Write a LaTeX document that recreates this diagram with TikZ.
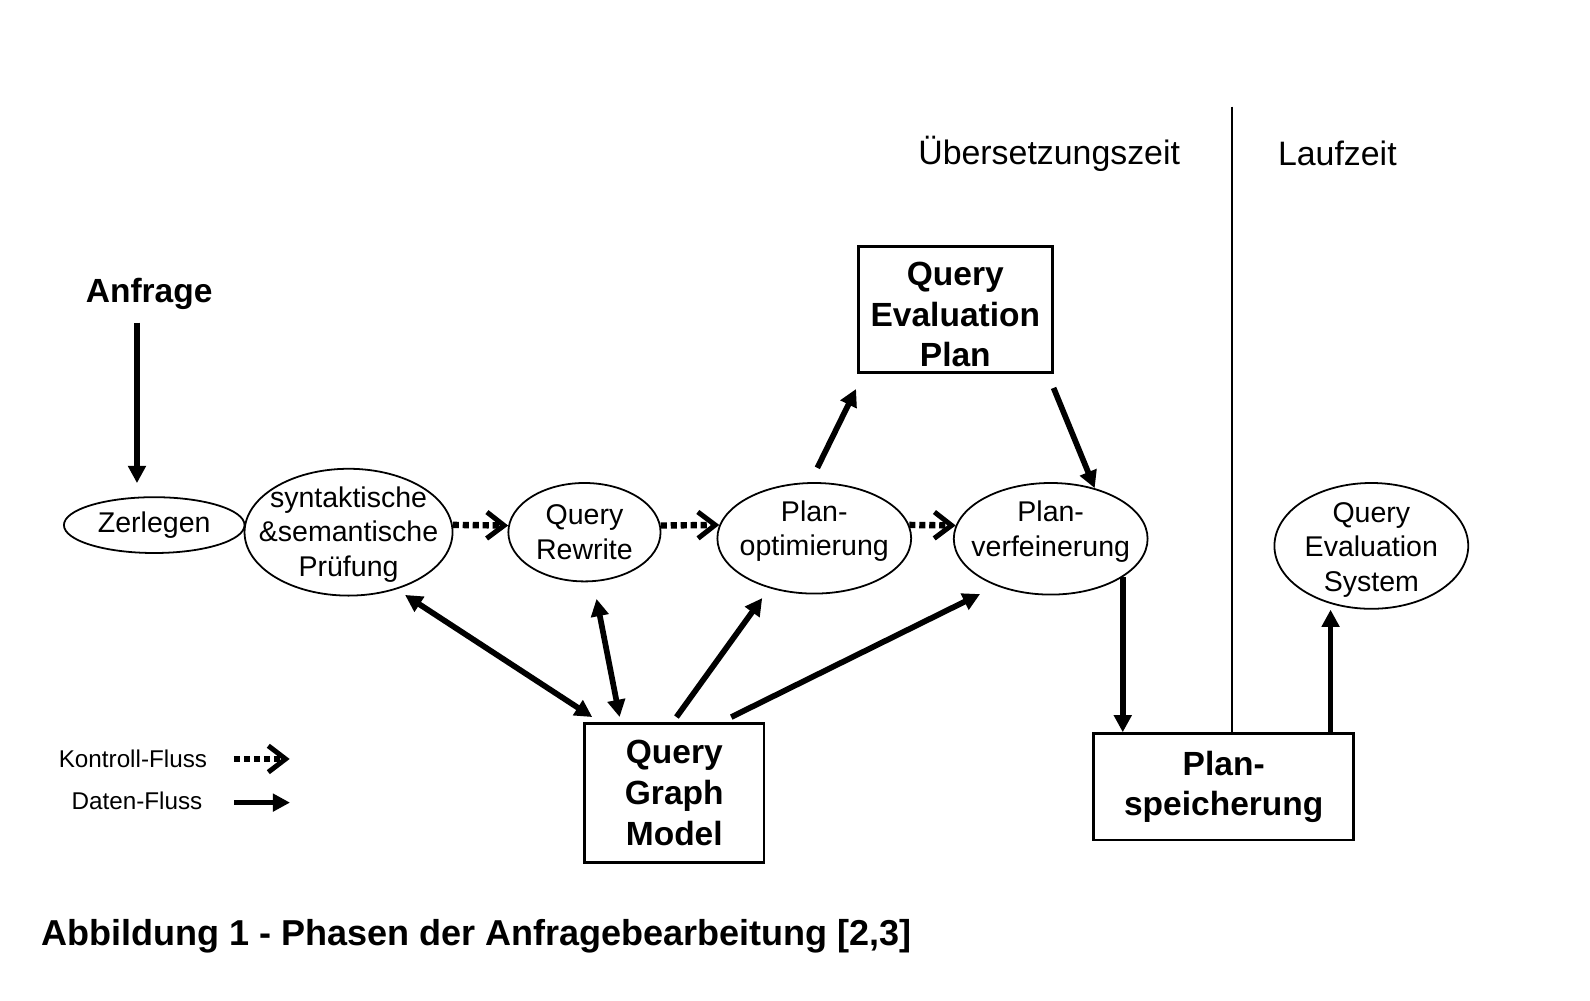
\documentclass[tikz,border=0pt]{standalone}
\usepackage{fontspec}
\setmainfont{Liberation Sans}
\usetikzlibrary{shapes.geometric,arrows.meta}

\begin{document}
\begin{tikzpicture}[
    proc/.style={ellipse,draw,line width=0.5pt,inner sep=0pt},
    lbl/.style={align=center,font=\fontsize{8}{9.7}\selectfont},
    store/.style={rectangle,draw,line width=0.75pt,inner sep=0pt,align=center,font=\fontsize{9.4}{11.4}\selectfont\bfseries},
    data/.style={line width=1.6pt,-{Triangle[length=0.17cm,width=0.17cm]}},
    both/.style={line width=1.6pt,{Triangle[length=0.17cm,width=0.17cm]}-{Triangle[length=0.17cm,width=0.17cm]}},
    ctrl/.style={line width=1.8pt,dash pattern=on 1.7pt off 1.1pt,-{Straight Barb[length=0.17cm,width=0.26cm,line width=1.4pt]}}
]
\useasboundingbox (0,0) rectangle (15.67,-9.857);

% Zeitachsen
\node[font=\fontsize{9.5}{11}\selectfont] (comp) at (10.34,-1.52) {Übersetzungszeit};
\node[font=\fontsize{9.5}{11}\selectfont] (run) at (13.18,-1.51) {Laufzeit};
\draw[line width=0.55pt] (12.14,-1.05) -- (12.14,-7.23);

\node[font=\fontsize{9.4}{11}\selectfont\bfseries] (anf) at (1.47,-2.90) {Anfrage};

% Phasen
\node[proc,minimum width=1.78cm,minimum height=0.55cm,label={[lbl]center:Zerlegen}] (zer) at (1.52,-5.175) {};
\node[proc,minimum width=2.05cm,minimum height=1.25cm,label={[lbl,yshift=-0.02cm]center:syntaktische\\\&semantische\\Prüfung}] (syn) at (3.435,-5.245) {};
\node[proc,minimum width=1.50cm,minimum height=0.97cm,label={[lbl]center:Query\\Rewrite}] (qr) at (5.76,-5.245) {};
\node[proc,minimum width=1.91cm,minimum height=1.09cm,label={[lbl,yshift=0.07cm]center:Plan-\\optimierung}] (po) at (8.025,-5.305) {};
\node[proc,minimum width=1.91cm,minimum height=1.10cm,label={[lbl,yshift=0.07cm]center:Plan-\\verfeinerung}] (pv) at (10.355,-5.31) {};
\node[proc,minimum width=1.91cm,minimum height=1.24cm,label={[lbl,yshift=-0.04cm]center:Query\\Evaluation\\System}] (qes) at (13.515,-5.38) {};

\node[store,minimum width=1.91cm,minimum height=1.24cm,label={[align=center,font=\fontsize{9.4}{11.4}\selectfont\bfseries,yshift=-0.05cm]center:Query\\Evaluation\\Plan}] (qep) at (9.415,-3.05) {};
\node[store,minimum width=1.77cm,minimum height=1.37cm] (qgm) at (6.645,-7.815) {Query\\Graph\\Model};
\node[store,minimum width=2.56cm,minimum height=1.05cm] (ps) at (12.06,-7.755) {Plan-\\speicherung};

% Kontroll-Fluss
\draw[ctrl] (syn.4) -- (qr.175);
\draw[ctrl] (qr.5) -- (po.172);
\draw[ctrl] (po.8) -- (pv.172);

% Daten-Fluss
\draw[data] ([xshift=-0.12cm]anf.south) -- ([shift={(-0.17,0.13)}]zer.north);
\draw[data] ([shift={(0.03,0.14)}]po.north) -- ([shift={(-0.01,-0.15)}]qep.south west);
\draw[data] ([yshift=-0.14cm]qep.south east) -- (pv.49);
\draw[both,shorten >=0.1cm] ([shift={(0.09,0.05)}]qgm.north west) -- (syn.-50);
\draw[both,shorten >=0.17cm] ([shift={(0.36,0.05)}]qgm.north west) -- (qr.-80);
\draw[data,shorten >=0.12cm] ([shift={(0.92,0.05)}]qgm.north west) -- (po.-132);
\draw[data,shorten >=0.18cm] ([shift={(1.46,0.05)}]qgm.north west) -- (pv.-139);
\draw[data] (pv.-28) -- (pv.-28 |- ps.north);
\coordinate (psout) at ([xshift=-0.24cm]ps.north east);
\draw[data] (psout) -- (psout |- qes.south);

% Legende
\node[font=\fontsize{6.8}{8}\selectfont] (lk) at (1.31,-7.48) {Kontroll-Fluss};
\node[font=\fontsize{6.8}{8}\selectfont] (ld) at (1.35,-7.89) {Daten-Fluss};
\draw[ctrl] ([xshift=0.14cm]lk.east) -- ++(0.55,0);
\draw[data] ([shift={(0.19,-0.02)}]ld.east) -- ++(0.55,0);

\node[anchor=west,inner sep=0pt,font=\fontsize{10.1}{12}\selectfont\bfseries] (cap) at (0.40,-9.23) {Abbildung 1 - Phasen der Anfragebearbeitung [2,3]};
\end{tikzpicture}
\end{document}
